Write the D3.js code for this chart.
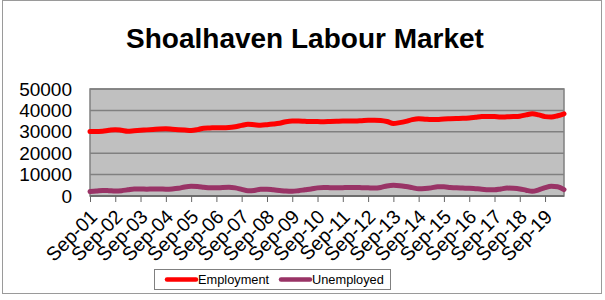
<!DOCTYPE html>
<html>
<head>
<meta charset="utf-8">
<script src="https://cdn.jsdelivr.net/npm/d3@7"></script>
<style>
  body { margin: 0; background: #fff; }
  svg { display: block; font-family: "Liberation Sans", Arial, sans-serif; }
</style>
</head>
<body>
<div id="chart"></div>
<script>
// quarterly figures, Sep-01 .. Jun-20
var employment = [
  30100, 30100, 30300, 30700, 31000, 30700, 30300, 30500, 30700, 30900,
  31100, 31300, 31400, 31200, 31000, 30800, 30600, 31000, 31700, 31800,
  31900, 31900, 32000, 32400, 33000, 33500, 33300, 33100, 33300, 33600,
  34000, 34700, 35000, 35000, 34900, 34800, 34800, 34700, 34800, 34900,
  35000, 35000, 35000, 35200, 35400, 35400, 35300, 34800, 33900, 34300,
  34900, 35700, 36100, 35900, 35700, 35800, 36000, 36100, 36200, 36300,
  36500, 36800, 37100, 37200, 37100, 36900, 37000, 37100, 37300, 37900,
  38400, 37900, 37100, 36900, 37500, 38400
];
var unemployed = [
  2100, 2300, 2600, 2500, 2350, 2500, 2900, 3300, 3300, 3200,
  3300, 3300, 3200, 3300, 3600, 4200, 4500, 4400, 4100, 3800,
  3800, 4000, 4100, 3800, 3100, 2400, 2600, 3200, 3200, 2900,
  2600, 2300, 2200, 2500, 2900, 3300, 3800, 4000, 3900, 3800,
  3900, 4000, 4000, 3900, 3800, 3700, 4000, 4700, 5000, 4800,
  4400, 3900, 3400, 3500, 3800, 4300, 4300, 4000, 3800, 3700,
  3600, 3400, 3200, 2900, 2900, 3300, 3700, 3600, 3300, 2700,
  2200, 2900, 3900, 4500, 4300, 3000
];
var seriesNames = ["Employment", "Unemployed"];
var yTicks = [0, 10000, 20000, 30000, 40000, 50000];
var xTickLabels = ["Sep-01", "Sep-02", "Sep-03", "Sep-04", "Sep-05", "Sep-06", "Sep-07",
  "Sep-08", "Sep-09", "Sep-10", "Sep-11", "Sep-12", "Sep-13", "Sep-14", "Sep-15",
  "Sep-16", "Sep-17", "Sep-18", "Sep-19"];

var W = 605, H = 300,
    plot = { left: 90, right: 564, top: 89, bottom: 196 },
    colors = ["#ff0000", "#993366"];

var parse = d3.timeParse("%b-%y"),
    start = parse(xTickLabels[0]),
    quarters = employment.map(function(d, i) { return d3.timeMonth.offset(start, 3 * i); });

var svg = d3.select('#chart')
            .append('svg')
            .attr('width', W)
            .attr('height', H);

// outer frame
svg.append('rect')
   .attr('x', 2.5).attr('y', 0.5)
   .attr('width', 599).attr('height', 293)
   .attr('fill', '#fff')
   .attr('stroke', '#9a9a9a');

svg.append('text')
   .attr('x', 305).attr('y', 48)
   .attr('text-anchor', 'middle')
   .attr('font-size', 28)
   .attr('font-weight', 'bold')
   .text('Shoalhaven Labour Market');

var x = d3.scaleTime()
          .domain([quarters[0], quarters[quarters.length - 1]])
          .range([plot.left, plot.right]),
    y = d3.scaleLinear()
          .domain([0, 50000])
          .range([plot.bottom, plot.top]);

svg.append('rect')
   .attr('x', plot.left).attr('y', plot.top)
   .attr('width', plot.right - plot.left)
   .attr('height', plot.bottom - plot.top)
   .attr('fill', '#c0c0c0');

svg.append('g')
   .selectAll('line')
   .data(yTicks)
   .enter()
     .append('line')
     .attr('x1', plot.left).attr('x2', plot.right)
     .attr('y1', function(d) { return y(d); })
     .attr('y2', function(d) { return y(d); })
     .attr('stroke', '#808080')
     .attr('stroke-width', 1.5);

svg.append('rect')
   .attr('x', plot.left).attr('y', plot.top)
   .attr('width', plot.right - plot.left)
   .attr('height', plot.bottom - plot.top)
   .attr('fill', 'none')
   .attr('stroke', '#808080')
   .attr('stroke-width', 1.5);

var line = d3.line()
             .x(function(d, i) { return x(quarters[i]); })
             .y(function(d) { return y(d); })
             .curve(d3.curveMonotoneX);

[employment, unemployed].forEach(function(s, k) {
  svg.append('path')
     .attr('d', line(s))
     .attr('fill', 'none')
     .attr('stroke', colors[k])
     .attr('stroke-width', 5)
     .attr('stroke-linejoin', 'round')
     .attr('stroke-linecap', 'round');
});

// y axis labels
svg.append('g')
   .attr('transform', 'translate(' + plot.left + ',0)')
   .call(d3.axisLeft(y).tickValues(yTicks).tickSize(0).tickPadding(18).tickFormat(d3.format('d')))
   .call(function(g) {
     g.select('.domain').remove();
     g.selectAll('text').attr('font-size', 19).attr('fill', '#000').attr('font-family', null);
   });

// x axis
var xTicks = xTickLabels.map(parse);
var xa = svg.append('g')
   .attr('transform', 'translate(0,' + plot.bottom + ')')
   .call(d3.axisBottom(x).tickValues(xTicks).tickSize(6).tickFormat(d3.timeFormat('%b-%y')));
xa.select('.domain').attr('d', 'M' + plot.left + ',0H' + plot.right).attr('stroke', '#666').attr('stroke-width', 1.5);
xa.selectAll('.tick line').attr('stroke', '#666');
xa.selectAll('text')
  .attr('font-size', 19.5)
  .attr('font-family', null)
  .attr('fill', '#000')
  .attr('text-anchor', 'end')
  .attr('dy', null)
  .attr('y', 0)
  .attr('transform', 'translate(8,22) rotate(-45)');

// legend
var lg = svg.append('g');
lg.append('rect')
  .attr('x', 154.5).attr('y', 269.5)
  .attr('width', 236).attr('height', 20)
  .attr('fill', '#fff')
  .attr('stroke', '#808080');
var legendX = [167, 281];
seriesNames.forEach(function(n, k) {
  lg.append('line')
    .attr('x1', legendX[k]).attr('x2', legendX[k] + 29)
    .attr('y1', 279.5).attr('y2', 279.5)
    .attr('stroke', colors[k])
    .attr('stroke-width', 4.5)
    .attr('stroke-linecap', 'round');
  lg.append('text')
    .attr('x', legendX[k] + 31).attr('y', 284)
    .attr('font-size', 12.8)
    .text(n);
});
</script>
</body>
</html>
